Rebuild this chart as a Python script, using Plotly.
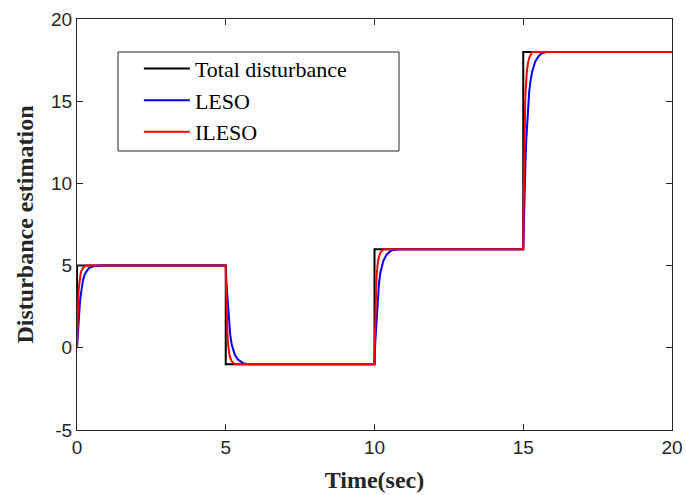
import plotly.graph_objects as go

# Total disturbance (step signal)
t_total = [0, 0, 5, 5, 10, 10, 15, 15, 20]
y_total = [0, 5, 5, -1, -1, 6, 6, 18, 18]

# LESO estimate
t_leso = [0, 0.025, 0.05, 0.075, 0.1, 0.125, 0.15, 0.2, 0.25, 0.3, 0.4, 0.5, 0.6, 0.8,
          5.0, 5.025, 5.05, 5.075, 5.1, 5.125, 5.15, 5.2, 5.25, 5.3, 5.4, 5.5, 5.6, 5.8,
          10.0, 10.025, 10.05, 10.075, 10.1, 10.125, 10.15, 10.2, 10.25, 10.3, 10.4, 10.5, 10.6, 10.8,
          15.0, 15.025, 15.05, 15.075, 15.1, 15.125, 15.15, 15.2, 15.25, 15.3, 15.4, 15.5, 15.6, 15.8, 20]
y_leso = [0, 0.9, 1.6, 2.25, 2.8, 3.2, 3.6, 4.1, 4.4, 4.6, 4.85, 4.93, 4.98, 5.0,
          5.0, 3.9, 3.2, 2.4, 1.7, 1.2, 0.8, 0.2, -0.2, -0.4, -0.7, -0.85, -0.95, -1.0,
          -1.0, 0.3, 1.1, 2.05, 2.85, 3.4, 3.9, 4.6, 5.05, 5.3, 5.65, 5.83, 5.94, 6.0,
          6.0, 8.2, 9.6, 11.3, 12.6, 13.6, 14.4, 15.6, 16.3, 16.8, 17.4, 17.7, 17.9, 18.0, 18.0]

# ILESO estimate
t_ileso = [0, 0.01, 0.02, 0.035, 0.05, 0.065, 0.08, 0.1, 0.12, 0.16, 0.2, 0.3,
           5.0, 5.01, 5.02, 5.035, 5.05, 5.065, 5.08, 5.1, 5.12, 5.16, 5.2, 5.3,
           10.0, 10.01, 10.02, 10.035, 10.05, 10.065, 10.08, 10.1, 10.12, 10.16, 10.2, 10.3,
           15.0, 15.01, 15.02, 15.035, 15.05, 15.065, 15.08, 15.1, 15.12, 15.16, 15.2, 15.3, 20]
y_ileso = [0, 0.95, 1.75, 2.6, 3.25, 3.7, 4.0, 4.3, 4.5, 4.72, 4.85, 5.0,
           5.0, 3.85, 2.9, 1.9, 1.1, 0.55, 0.2, -0.2, -0.4, -0.66, -0.82, -1.0,
           -1.0, 0.33, 1.45, 2.65, 3.55, 4.15, 4.6, 5.0, 5.3, 5.6, 5.79, 6.0,
           6.0, 8.3, 10.2, 12.3, 13.8, 14.9, 15.6, 16.3, 16.8, 17.3, 17.64, 18.0, 18.0]

x_ticks = [0, 5, 10, 15, 20]
y_ticks = [-5, 0, 5, 10, 15, 20]
y_ticklabels = ["-5", "0", "5", "10", "15", "20"]

fig = go.Figure()
fig.add_trace(go.Scatter(x=t_total, y=y_total, mode="lines", name="Total disturbance",
                         line=dict(color="black", width=2)))
fig.add_trace(go.Scatter(x=t_leso, y=y_leso, mode="lines", name="LESO",
                         line=dict(color="blue", width=2)))
fig.add_trace(go.Scatter(x=t_ileso, y=y_ileso, mode="lines", name="ILESO",
                         line=dict(color="red", width=2)))

axis_common = dict(showgrid=False, zeroline=False, showline=True, linecolor="#262626",
                   linewidth=1, mirror="ticks", ticks="inside", ticklen=6,
                   tickcolor="#262626", automargin=False,
                   tickfont=dict(family="Liberation Sans, Arial", size=19, color="#262626"))

title_font = dict(family="Liberation Serif, Times New Roman", size=24, color="#262626")

fig.update_layout(
    width=686, height=495,
    margin=dict(l=77, r=14, t=19, b=65),
    paper_bgcolor="white", plot_bgcolor="white",
    showlegend=True,
    legend=dict(x=0.104, y=0.93, xanchor="left", yanchor="top",
                bgcolor="rgba(0,0,0,0)", borderwidth=0,
                font=dict(family="Liberation Serif, Times New Roman", size=22, color="black"),
                itemwidth=46, tracegroupgap=0),
    xaxis=dict(range=[0, 20], tickvals=x_ticks,
               title=dict(text="<b>Time(sec)</b>", standoff=14, font=title_font),
               **axis_common),
    yaxis=dict(range=[-5, 20], tickvals=y_ticks, ticktext=y_ticklabels,
               title=dict(text="<b>Disturbance estimation</b>", standoff=10, font=title_font),
               **axis_common),
    shapes=[dict(type="rect", xref="paper", yref="paper",
                 x0=(118 - 77) / 595, x1=(399 - 77) / 595,
                 y0=(430 - 151) / 411, y1=(430 - 52) / 411,
                 line=dict(color="#262626", width=1), fillcolor="white", layer="below")],
)

fig.write_html("out.html")
